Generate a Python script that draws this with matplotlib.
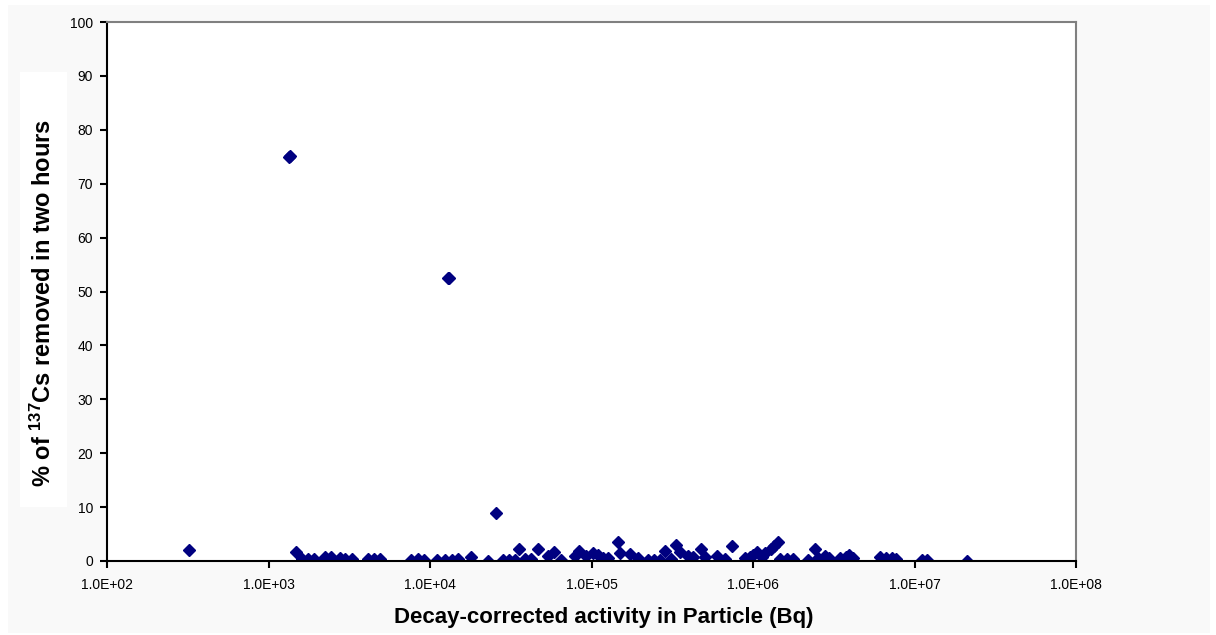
import matplotlib
matplotlib.use("Agg")
import matplotlib.pyplot as plt
from matplotlib.patches import Rectangle
from matplotlib.ticker import FixedLocator, NullLocator

plt.rcParams['font.family'] = 'Liberation Sans'
plt.rcParams['mathtext.fontset'] = 'custom'
plt.rcParams['mathtext.rm'] = 'Liberation Sans:bold'
plt.rcParams['mathtext.it'] = 'Liberation Sans:bold'
plt.rcParams['mathtext.bf'] = 'Liberation Sans:bold'

# decay-corrected activity of each particle (Bq)
activity = [320, 1330, 1350, 1480, 1610, 1760, 1910, 2240, 2440, 2770, 2980,
            3290, 4130, 4500, 4900, 7620, 8430, 9180, 11000, 12400, 12900, 13150,
            13700, 14900, 17900, 22900, 25600, 28300, 30800, 33600, 35600, 38700,
            42200, 46600, 53800, 58600, 64800, 79100, 83700, 92500, 102000, 110000,
            118000, 126000, 146000, 150000, 173000, 194000, 224000, 244000, 266000, 285000,
            311000, 334000, 353000, 396000, 425000, 476000, 505000, 599000, 671000, 741000,
            892000, 958000, 1000000, 1060000, 1140000, 1190000, 1290000, 1350000, 1430000, 1470000,
            1620000, 1770000, 2190000, 2420000, 2530000, 2790000, 2960000, 3460000, 3770000, 3930000,
            4160000, 6110000, 6660000, 7260000, 7680000, 11100000, 11900000, 21100000]

# percentage of 137Cs removed in two hours
removed = [2.0, 74.9, 75.2, 1.7, 0.4, 0.4, 0.4, 0.7, 0.7, 0.6, 0.4,
           0.3, 0.4, 0.3, 0.3, 0.2, 0.3, 0.2, 0.2, 0.1, 52.5, 52.5,
           0.2, 0.3, 0.8, 0.0, 8.9, 0.1, 0.2, 0.2, 2.2, 0.3,
           0.3, 2.2, 1.0, 1.6, 0.1, 1.0, 1.8, 1.0, 1.5, 1.2,
           0.6, 0.6, 3.6, 1.4, 1.3, 0.6, 0.2, 0.2, 0.2, 1.8,
           0.4, 3.0, 1.7, 1.0, 0.7, 2.2, 0.8, 1.0, 0.4, 2.8,
           0.6, 0.8, 1.2, 1.6, 0.8, 1.4, 2.2, 2.8, 3.6, 0.3,
           0.3, 0.3, 0.2, 2.2, 0.6, 1.0, 0.6, 0.6, 0.8, 1.2,
           0.6, 0.8, 0.5, 0.6, 0.4, 0.2, 0.2, 0.0]

x_ticks = [1e2, 1e3, 1e4, 1e5, 1e6, 1e7, 1e8]
x_tick_labels = ['1.0E+02', '1.0E+03', '1.0E+04', '1.0E+05', '1.0E+06', '1.0E+07', '1.0E+08']
y_ticks = list(range(0, 101, 10))

fig = plt.figure(figsize=(12.16, 6.35), dpi=100, facecolor='white')
# light grey chart area behind the plot
fig.patches.append(Rectangle((8 / 1216, 2 / 635), 1202 / 1216, 628 / 635,
                             transform=fig.transFigure, facecolor='#f9f9f9',
                             edgecolor='none', zorder=-10))
# white panel behind the y-axis title
fig.patches.append(Rectangle((20 / 1216, 1 - 507 / 635), 47 / 1216, 435 / 635,
                             transform=fig.transFigure, facecolor='white',
                             edgecolor='none', zorder=-5))

ax = fig.add_axes([107 / 1216, 1 - 561 / 635, 969 / 1216, 539 / 635])
ax.set_facecolor('white')

ax.plot(activity, removed, linestyle='none', marker='D', markersize=6.5,
        color='#000080', markeredgecolor='#000080', clip_on=True)

ax.set_xscale('log')
ax.set_xlim(1e2, 1e8)
ax.set_ylim(0, 100)
ax.xaxis.set_major_locator(FixedLocator(x_ticks))
ax.xaxis.set_minor_locator(NullLocator())
ax.set_xticklabels(x_tick_labels)
ax.set_yticks(y_ticks)

for side in ['left', 'bottom']:
    ax.spines[side].set_color('black')
    ax.spines[side].set_linewidth(1.5)
for side in ['top', 'right']:
    ax.spines[side].set_color('#808080')
    ax.spines[side].set_linewidth(1.5)

ax.tick_params(axis='both', direction='out', length=5, width=1.5,
               color='black', labelsize=10)
ax.tick_params(axis='x', pad=7)
ax.tick_params(axis='y', pad=5)

ax.set_xlabel('Decay-corrected activity in Particle (Bq)', fontsize=16,
              fontweight='bold')
ax.xaxis.set_label_coords(0.513, -0.085)
ax.set_ylabel(r'% of $^{137}$Cs removed in two hours', fontsize=17,
              fontweight='bold')
ax.yaxis.set_label_coords(-0.053, 0.478)

fig.savefig('out.png', dpi=100, facecolor=fig.get_facecolor())
